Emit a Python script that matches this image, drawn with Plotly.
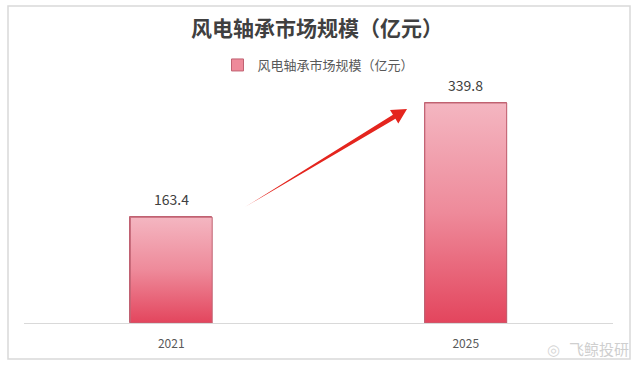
import math
import plotly.graph_objects as go

# ---- data ----
categories = ["2021", "2025"]
values = [163.4, 339.8]
series_name = "风电轴承市场规模（亿元）"
title_text = "风电轴承市场规模（亿元）"
watermark = "飞鲸投研"

# ---- layout constants (pixels) ----
W, H = 634, 366
ML, MR, MT, MB = 24, 21, 64, 43
PW, PH = W - ML - MR, H - MT - MB
YMAX = 400
BAR_W = 0.278
TOP_C, MID_C, BOT_C = "#f4b6c1", "#ee8a9a", "#e3455d"
EDGE_C = "#c06272"


def px2paper(px, py):
    return (px - ML) / PW, (H - MB - py) / PH


fig = go.Figure()
xs = list(range(len(categories)))

# main bar trace (legend + base colour)
fig.add_trace(go.Bar(
    x=xs, y=values, width=BAR_W, name=series_name,
    marker=dict(color=MID_C, line=dict(color=EDGE_C, width=1)),
    showlegend=True, hoverinfo="skip",
))

# gradient overlays built from the same data
for i, v in zip(xs, values):
    x0, x1 = i - BAR_W / 2, i + BAR_W / 2
    fig.add_trace(go.Scatter(
        x=[x0, x0, x1, x1, x0], y=[0, v, v, 0, 0],
        mode="lines", line=dict(color=EDGE_C, width=1),
        fill="toself",
        fillgradient=dict(type="vertical",
                          colorscale=[[0, BOT_C], [0.5, MID_C], [1, TOP_C]]),
        showlegend=False, hoverinfo="skip",
    ))

# value labels
for i, v in zip(xs, values):
    fig.add_annotation(x=i, y=v, text=f"{v:.1f}", showarrow=False,
                       yanchor="bottom", yshift=6,
                       font=dict(size=14, color="#404040",
                                 family="Noto Sans CJK SC"))

# tapered arrow (decoration)
tail = (245, 207)
tip = (407, 109)
dx, dy = tip[0] - tail[0], tip[1] - tail[1]
L = math.hypot(dx, dy)
ux, uy = dx / L, dy / L
nx, ny = -uy, ux
hl, hw, bw = 15, 8, 2.4
bx, by = tip[0] - hl * ux, tip[1] - hl * uy
pts = [tail,
       (bx + bw * nx, by + bw * ny),
       (bx + hw * nx, by + hw * ny),
       tip,
       (bx - hw * nx, by - hw * ny),
       (bx - bw * nx, by - bw * ny)]
pp = [px2paper(*p) for p in pts]
path = "M " + " L ".join(f"{a:.4f} {b:.4f}" for a, b in pp) + " Z"
fig.add_shape(type="path", path=path, xref="paper", yref="paper",
              fillcolor="#e4251e", line=dict(width=0))

# outer frame
fx0, fy0 = px2paper(8, 359)
fx1, fy1 = px2paper(630, 6)
fig.add_shape(type="rect", xref="paper", yref="paper",
              x0=fx0, y0=fy0, x1=fx1, y1=fy1,
              line=dict(color="#d9d9d9", width=1.5), fillcolor="rgba(0,0,0,0)")

# watermark
wx, wy = px2paper(599, 348)
fig.add_annotation(xref="paper", yref="paper", x=wx, y=wy, text=watermark,
                   xanchor="center", yanchor="middle",
                   showarrow=False, font=dict(size=15, color="#cfcfcf",
                                              family="Noto Sans CJK SC"))
lx, ly = px2paper(553, 349)
fig.add_annotation(xref="paper", yref="paper", x=lx, y=ly, text="◎",
                   xanchor="center", yanchor="middle",
                   showarrow=False, font=dict(size=15, color="#d6d6d6"))

fig.update_layout(
    width=W, height=H,
    margin=dict(l=ML, r=MR, t=MT, b=MB),
    paper_bgcolor="white", plot_bgcolor="white",
    title=dict(text="<b>" + title_text + "</b>", x=0.5, xanchor="center",
               y=1 - 29 / H, yanchor="middle",
               font=dict(size=21, color="#404040", family="Noto Sans CJK SC")),
    legend=dict(orientation="h", x=0.5, xanchor="center",
                y=px2paper(0, 65)[1], yanchor="middle",
                font=dict(size=13, color="#595959", family="Noto Sans CJK SC"),
                itemwidth=30),
    xaxis=dict(range=[-0.5, len(categories) - 0.5], tickvals=xs,
               ticktext=categories, showgrid=False, zeroline=False,
               showline=True, linecolor="#d9d9d9", linewidth=1,
               ticks="", ticklabelstandoff=10,
               tickfont=dict(size=12, color="#595959",
                             family="Noto Sans CJK SC"),
               fixedrange=True),
    yaxis=dict(range=[0, YMAX], visible=False, showgrid=False,
               zeroline=False, fixedrange=True),
    bargap=0,
    showlegend=True,
)

fig.write_html("out.html",
               config={"displayModeBar": False},
               post_script="document.body.style.margin='0';")
